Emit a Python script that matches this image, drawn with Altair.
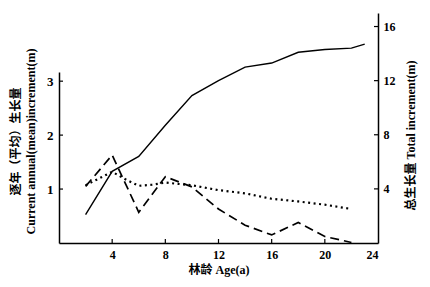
import altair as alt
import pandas as pd

# Total increment (right axis, solid)
age_total = [2, 4, 6, 8, 10, 12, 14, 16, 18, 20, 22, 23]
total_inc = [2.1, 5.3, 6.4, 8.7, 10.9, 12.0, 13.0, 13.3, 14.1, 14.3, 14.4, 14.7]

# Current annual increment (left axis, dashed)
age_current = [2, 4, 6, 8, 10, 12, 14, 16, 18, 20, 22]
current_inc = [1.05, 1.63, 0.57, 1.23, 1.04, 0.63, 0.33, 0.15, 0.38, 0.12, 0.01]

# Mean annual increment (left axis, dotted)
age_mean = [2, 4, 5, 6, 7, 8, 10, 12, 14, 16, 18, 20, 22]
mean_inc = [1.07, 1.32, 1.18, 1.06, 1.08, 1.12, 1.07, 0.98, 0.92, 0.82, 0.77, 0.71, 0.63]

x_ticks = [4, 8, 12, 16, 20, 24]
left_ticks = [1, 2, 3]
right_ticks = [4, 8, 12, 16]

FONT = "Liberation Serif, Noto Sans CJK SC"
W, H = 319, 230

df_total = pd.DataFrame({"age": age_total, "v": total_inc})
df_cur = pd.DataFrame({"age": age_current, "v": current_inc})
df_mean = pd.DataFrame({"age": age_mean, "v": mean_inc})
df_xt = pd.DataFrame({"t": x_ticks[:-1]})
df_lt = pd.DataFrame({"t": left_ticks})
df_rt = pd.DataFrame({"t": right_ticks})

xscale = alt.Scale(domain=[0, 24], nice=False, zero=False)
lscale = alt.Scale(domain=[0, 3.17], range=[H, 59], nice=False)
rscale = alt.Scale(domain=[0, 17], nice=False)

xaxis = alt.Axis(values=x_ticks, title="林龄 Age(a)", tickSize=0, labelPadding=6, format="d",
                 labelFont=FONT, labelFontWeight="bold", labelFontSize=12,
                 titleFont=FONT, titleFontWeight="bold", titleFontSize=12,
                 titlePadding=4, domainColor="black", domainWidth=1.5, grid=False)

laxis = alt.Axis(values=left_ticks, title=["逐年（平均）生长量", "Current annual(mean)increment(m)"],
                 tickSize=0, labelPadding=6, orient="left", format="d",
                 labelFont=FONT, labelFontWeight="bold", labelFontSize=13,
                 titleFont=FONT, titleFontWeight="bold", titleFontSize=12,
                 titleY=128, titleX=-44, titleBaseline="middle", titleAngle=270,
                 titleLineHeight=15,
                 domainColor="black", domainWidth=1.5, grid=False)

raxis = alt.Axis(values=right_ticks, title="总生长量 Total increment(m)",
                 tickSize=0, labelPadding=5, orient="right", format="d",
                 labelFont=FONT, labelFontWeight="bold", labelFontSize=12,
                 titleFont=FONT, titleFontWeight="bold", titleFontSize=12,
                 titleAngle=270, titleY=122, titleX=32, titleBaseline="middle",
                 domainColor="black", domainWidth=1.5, grid=False)

dashed = alt.Chart(df_cur).mark_line(color="black", strokeWidth=1.7, strokeDash=[9, 5]).encode(
    x=alt.X("age:Q", scale=xscale, axis=xaxis),
    y=alt.Y("v:Q", scale=lscale, axis=laxis),
)
dotted = alt.Chart(df_mean).mark_line(color="black", strokeWidth=2.2, strokeDash=[2, 3.5]).encode(
    x=alt.X("age:Q", scale=xscale),
    y=alt.Y("v:Q", scale=lscale),
)
lticks = alt.Chart(df_lt).mark_rule(color="black", strokeWidth=1.2).encode(
    y=alt.Y("t:Q", scale=lscale),
    x=alt.value(0), x2=alt.value(4),
)
xticks = alt.Chart(df_xt).mark_rule(color="black", strokeWidth=1.2).encode(
    x=alt.X("t:Q", scale=xscale),
    y=alt.value(H), y2=alt.value(H - 4),
)
solid = alt.Chart(df_total).mark_line(color="black", strokeWidth=1.4).encode(
    x=alt.X("age:Q", scale=xscale),
    y=alt.Y("v:Q", scale=rscale, axis=raxis),
)
rticks = alt.Chart(df_rt).mark_rule(color="black", strokeWidth=1.2).encode(
    y=alt.Y("t:Q", scale=rscale),
    x=alt.value(W), x2=alt.value(W - 4),
)

left = alt.layer(dashed, dotted, lticks, xticks)
right = alt.layer(solid, rticks)

chart = alt.layer(left, right).resolve_scale(y="independent").properties(
    width=W, height=H,
    autosize=alt.AutoSizeParams(type="none"),
    padding={"left": 59, "top": 13, "right": 52, "bottom": 44},
    background="white",
).configure_view(stroke=None)

chart.save("out.html", embed_options={"renderer": "svg", "actions": False})
